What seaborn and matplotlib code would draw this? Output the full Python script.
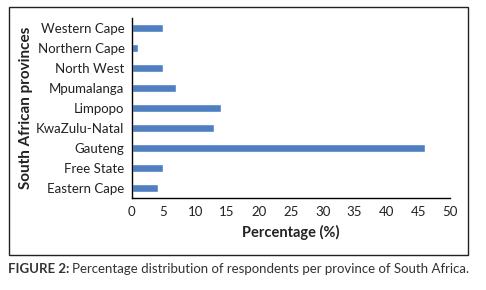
import matplotlib
matplotlib.use("Agg")
import matplotlib.pyplot as plt
import seaborn as sns
import pandas as pd
from matplotlib.patches import Rectangle

# Data (bottom to top in the chart)
provinces = ["Eastern Cape", "Free State", "Gauteng", "KwaZulu-Natal", "Limpopo",
             "Mpumalanga", "North West", "Northern Cape", "Western Cape"]
percent = [4.2, 5, 46, 13, 14, 7, 5, 1, 5]

df = pd.DataFrame({"Province": provinces[::-1], "Percentage": percent[::-1]})

sns.set_style("white")
plt.rcParams["font.family"] = ["Lato", "DejaVu Sans"]

fig = plt.figure(figsize=(4.86, 2.90), dpi=100)
ax = fig.add_axes([131.5 / 486, 92 / 290, (450 - 131.5) / 486, 180 / 290])

sns.barplot(data=df, y="Province", x="Percentage", color="#4F7FC0",
            width=0.36, orient="h", ax=ax, saturation=1)

ax.set_xlim(0, 50)
ax.set_ylim(len(provinces) - 0.5, -0.5)
ax.set_xticks(range(0, 51, 5))
# ticks between categories on the y axis, labels centred on bars
ax.set_yticks([i - 0.5 for i in range(len(provinces) + 1)], minor=False)
ax.set_yticklabels([])
ax.set_yticks(range(len(provinces)), minor=True)
ax.set_yticklabels(df["Province"], minor=True, fontsize=9.5, color="#222222")
ax.tick_params(axis="y", which="minor", length=0, pad=5)
ax.tick_params(axis="y", which="major", length=4, width=1, color="black", direction="out")
ax.tick_params(axis="x", length=4, width=1, color="black", direction="out",
               labelsize=9.5, labelcolor="#222222", pad=2)

for s in ["top", "right"]:
    ax.spines[s].set_visible(False)
for s in ["left", "bottom"]:
    ax.spines[s].set_color("black")
    ax.spines[s].set_linewidth(1)

ax.set_xlabel("Percentage (%)", fontsize=10.5, fontweight="bold", color="#222222", labelpad=5)
ax.set_ylabel("")
fig.text(26 / 486, 1 - 108 / 290, "South African provinces", rotation=90,
         ha="center", va="center", fontsize=11, fontweight="bold", color="#222222")

# outer frame
fig.patches.append(Rectangle((8.5 / 486, 1 - 254.5 / 290), (468 - 8.5) / 486, (254.5 - 7) / 290,
                             transform=fig.transFigure, fill=False, edgecolor="#222222", lw=1))

# caption
t1 = fig.text(8 / 486, 1 - 269 / 290, "FIGURE 2:", fontsize=9.5, fontweight="bold",
              color="#333333", va="center", ha="left")
fig.canvas.draw()
bb = t1.get_window_extent()
fig.text(bb.x1 / fig.bbox.width + 3 / 486, 1 - 269 / 290,
         "Percentage distribution of respondents per province of South Africa.",
         fontsize=9.5, color="#333333", va="center", ha="left")

fig.savefig("out.png", dpi=100)
